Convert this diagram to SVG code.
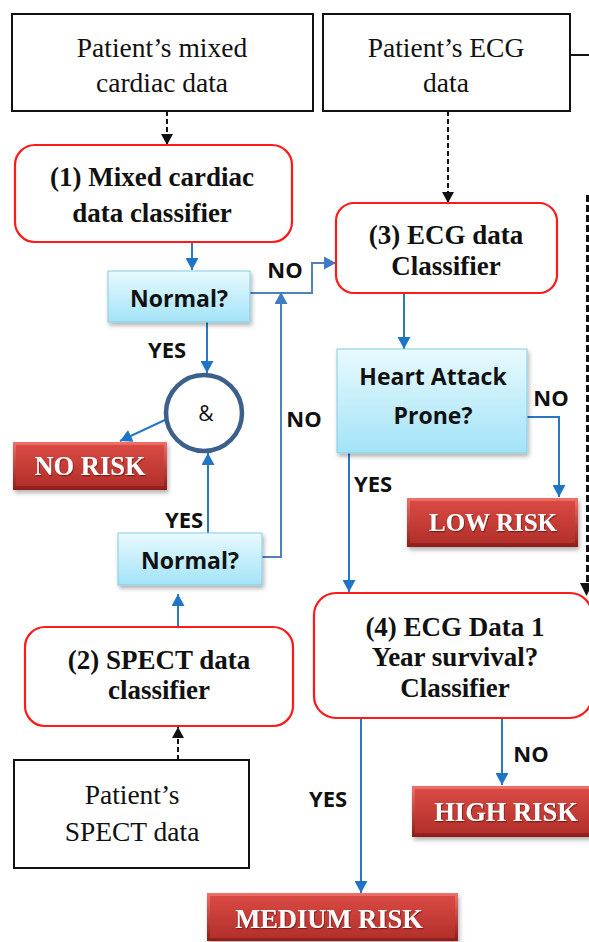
<svg xmlns="http://www.w3.org/2000/svg" width="589" height="942" viewBox="0 0 589 942">
  <defs>
    <style>
      .data { fill: #ffffff; stroke: #111111; stroke-width: 2; }
      .clf { fill: #ffffff; stroke: #ff1a1a; stroke-width: 2.2; }
      .dec { fill: url(#decFill); stroke: #86cde3; stroke-width: 1; filter: url(#shadow); }
      .risk-outer { fill: url(#riskEdge); filter: url(#shadow); }
      .risk-inner { fill: url(#riskFill); }
      .t-data { font-family: "Liberation Serif", "Times New Roman", serif; font-size: 27.5px; fill: #111; text-anchor: middle; }
      .t-clf { font-family: "Liberation Serif", "Times New Roman", serif; font-weight: bold; font-size: 27px; fill: #111; text-anchor: middle; }
      .t-dec { font-family: "Open Sans", "Liberation Sans", sans-serif; font-weight: bold; font-size: 23px; fill: #111; text-anchor: middle; }
      .t-risk { font-family: "Liberation Serif", "Times New Roman", serif; font-weight: bold; font-size: 26.5px; fill: #ffffff; text-anchor: middle; filter: url(#textShadow); }
      .t-lbl { font-family: "Open Sans", "Liberation Sans", sans-serif; font-weight: bold; font-size: 22px; fill: #111; text-anchor: middle; }
      .dash { fill: none; stroke: #111; stroke-width: 2; stroke-dasharray: 5 3; marker-end: url(#headBlack); }
      .flow { fill: none; stroke: #2a78c4; stroke-width: 2; marker-end: url(#headBlue); }
      .loop { fill: none; stroke: #4f81bd; stroke-width: 2; marker-end: url(#headSteel); }
    </style>
    <linearGradient id="decFill" x1="0" y1="0" x2="0" y2="1">
      <stop offset="0" stop-color="#e8fafe"/>
      <stop offset="1" stop-color="#a3e3f7"/>
    </linearGradient>
    <linearGradient id="riskEdge" x1="0" y1="0" x2="0" y2="1">
      <stop offset="0" stop-color="#f07068"/>
      <stop offset="1" stop-color="#8e1d1a"/>
    </linearGradient>
    <linearGradient id="riskFill" x1="0" y1="0" x2="0" y2="1">
      <stop offset="0" stop-color="#d94a43"/>
      <stop offset="1" stop-color="#b3302b"/>
    </linearGradient>
    <filter id="shadow" x="-10%" y="-10%" width="125%" height="140%">
      <feDropShadow dx="1.5" dy="3" stdDeviation="2" flood-color="#000" flood-opacity="0.3"/>
    </filter>
    <filter id="textShadow" x="-10%" y="-20%" width="120%" height="150%">
      <feDropShadow dx="0.8" dy="1.2" stdDeviation="0.6" flood-color="#5a0c0a" flood-opacity="0.7"/>
    </filter>
    <marker id="headBlack" markerUnits="userSpaceOnUse" markerWidth="12" markerHeight="12" refX="11" refY="6" orient="auto">
      <path d="M0,0 L11,6 L0,12 Z" fill="#111"/>
    </marker>
    <marker id="headBlue" markerUnits="userSpaceOnUse" markerWidth="13" markerHeight="13" refX="12" refY="6.5" orient="auto">
      <path d="M0,0 L12,6.5 L0,13 Z" fill="#1f74c6"/>
    </marker>
    <marker id="headSteel" markerUnits="userSpaceOnUse" markerWidth="13" markerHeight="13" refX="12" refY="6.5" orient="auto">
      <path d="M0,0 L12,6.5 L0,13 Z" fill="#3f7bc4"/>
    </marker>
  </defs>

  <!-- connectors -->
  <g id="connectors">
    <line class="dash" x1="167" y1="111" x2="167" y2="145"/>
    <line class="dash" x1="448" y1="111" x2="448" y2="203"/>
    <line class="dash" x1="178" y1="760" x2="178" y2="727"/>
    <line x1="570" y1="55" x2="589" y2="55" stroke="#111" stroke-width="2"/>
    <line x1="587.5" y1="195" x2="587.5" y2="584" stroke="#111" stroke-width="3" stroke-dasharray="7 3"/>
    <path d="M580,583 L593,583 L586.5,596 Z" fill="#111"/>

    <line class="flow" x1="192" y1="242" x2="192" y2="270"/>
    <line class="flow" x1="207" y1="322" x2="207" y2="373"/>
    <line class="flow" x1="167" y1="419" x2="120" y2="441"/>
    <line class="flow" x1="208" y1="533" x2="208" y2="453"/>
    <line class="flow" x1="178" y1="627" x2="178" y2="594"/>
    <path class="loop" d="M250,293 H312 V263 H336"/>
    <path class="loop" d="M262,557 H281 V292"/>
    <line class="flow" x1="404" y1="293" x2="404" y2="349"/>
    <path class="flow" d="M527,417 H559 V497"/>
    <path class="flow" d="M349,453 V592"/>
    <line class="flow" x1="502" y1="718" x2="502" y2="785"/>
    <line class="flow" x1="361" y1="718" x2="361" y2="893"/>

    <text class="t-lbl" x="285" y="278">NO</text>
    <text class="t-lbl" x="304" y="427">NO</text>
    <text class="t-lbl" x="167" y="358">YES</text>
    <text class="t-lbl" x="184" y="528">YES</text>
    <text class="t-lbl" x="373" y="492">YES</text>
    <text class="t-lbl" x="551" y="406">NO</text>
    <text class="t-lbl" x="531" y="762">NO</text>
    <text class="t-lbl" x="328" y="807">YES</text>
  </g>

  <!-- input data -->
  <g id="n-mixed-data">
    <rect class="data" x="12" y="14" width="301" height="97"/>
    <text class="t-data" x="162" y="57">Patient’s mixed</text>
    <text class="t-data" x="162" y="92">cardiac data</text>
  </g>
  <g id="n-ecg-data">
    <rect class="data" x="323" y="14" width="247" height="97"/>
    <text class="t-data" x="446" y="57">Patient’s ECG</text>
    <text class="t-data" x="446" y="92">data</text>
  </g>
  <g id="n-spect-data">
    <rect class="data" x="14" y="760" width="235" height="108"/>
    <text class="t-data" x="132" y="804">Patient’s</text>
    <text class="t-data" x="132" y="841">SPECT data</text>
  </g>

  <!-- classifiers -->
  <g id="n-clf1">
    <rect class="clf" x="15" y="145" width="277" height="97" rx="20"/>
    <text class="t-clf" x="152" y="186">(1) Mixed cardiac</text>
    <text class="t-clf" x="152" y="222">data classifier</text>
  </g>
  <g id="n-clf2">
    <rect class="clf" x="25" y="627" width="268" height="99" rx="20"/>
    <text class="t-clf" x="159" y="669">(2) SPECT data</text>
    <text class="t-clf" x="159" y="699">classifier</text>
  </g>
  <g id="n-clf3">
    <rect class="clf" x="336" y="203" width="221" height="90" rx="18"/>
    <text class="t-clf" x="446" y="244">(3) ECG data</text>
    <text class="t-clf" x="446" y="275">Classifier</text>
  </g>
  <g id="n-clf4">
    <rect class="clf" x="314" y="593" width="278" height="125" rx="22"/>
    <text class="t-clf" x="455" y="636">(4) ECG Data 1</text>
    <text class="t-clf" x="455" y="666">Year survival?</text>
    <text class="t-clf" x="455" y="697">Classifier</text>
  </g>

  <!-- decisions -->
  <g id="n-normal1">
    <rect class="dec" x="108" y="271" width="142" height="51"/>
    <text class="t-dec" x="179" y="307">Normal?</text>
  </g>
  <g id="n-normal2">
    <rect class="dec" x="118" y="533" width="144" height="52"/>
    <text class="t-dec" x="190" y="569">Normal?</text>
  </g>
  <g id="n-heart">
    <rect class="dec" x="337" y="349" width="190" height="104"/>
    <text class="t-dec" x="433" y="385">Heart Attack</text>
    <text class="t-dec" x="433" y="424">Prone?</text>
  </g>
  <g id="n-and">
    <circle cx="204" cy="413" r="38" fill="#ffffff" stroke="#3d5f8c" stroke-width="4.5"/>
    <text x="206" y="421" font-family="Open Sans, Liberation Sans, sans-serif" font-size="21" fill="#111" text-anchor="middle">&amp;</text>
  </g>

  <!-- outcomes -->
  <g id="n-norisk">
    <rect class="risk-outer" x="13" y="442" width="154" height="48"/>
    <rect class="risk-inner" x="16" y="445" width="148" height="41"/>
    <text class="t-risk" x="90" y="475">NO RISK</text>
  </g>
  <g id="n-lowrisk">
    <rect class="risk-outer" x="407" y="498" width="171" height="49"/>
    <rect class="risk-inner" x="410" y="501" width="165" height="42"/>
    <text class="t-risk" x="493" y="531" style="font-size:25px">LOW RISK</text>
  </g>
  <g id="n-highrisk">
    <rect class="risk-outer" x="412" y="786" width="180" height="51"/>
    <rect class="risk-inner" x="415" y="789" width="174" height="44"/>
    <text class="t-risk" x="506" y="821">HIGH RISK</text>
  </g>
  <g id="n-mediumrisk">
    <rect class="risk-outer" x="207" y="893" width="251" height="48"/>
    <rect class="risk-inner" x="210" y="896" width="245" height="42"/>
    <text class="t-risk" x="329" y="928">MEDIUM RISK</text>
  </g>
</svg>
